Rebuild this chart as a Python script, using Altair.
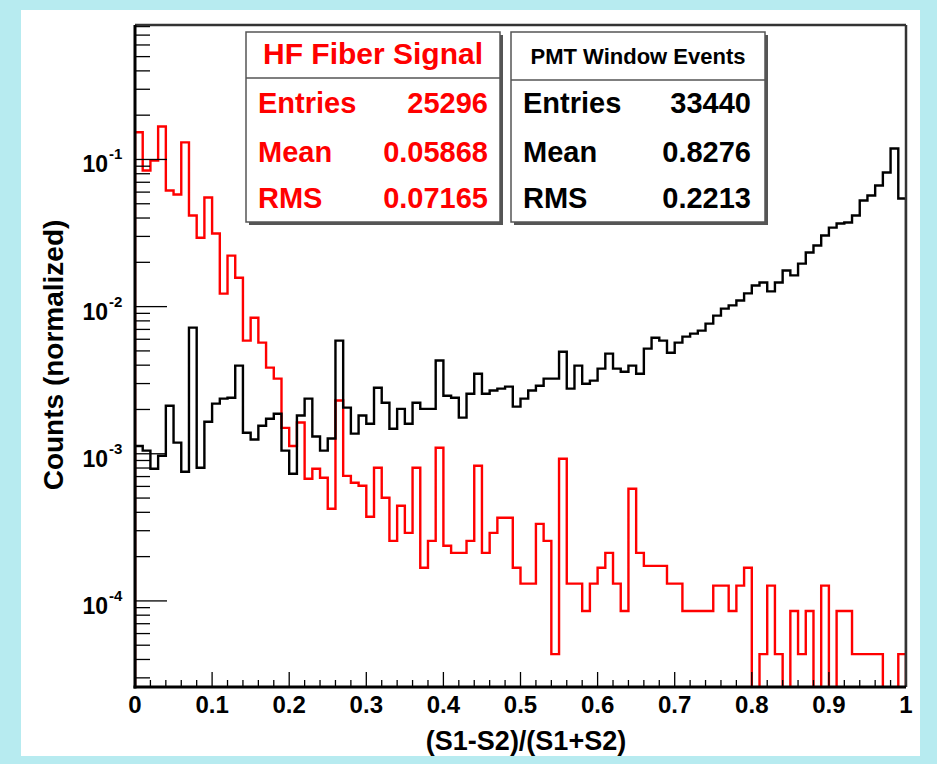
import altair as alt
import pandas as pd

# ---------------- data ----------------
n_bins = 100
hf_fiber = [
    0.153, 0.0842, 0.0985, 0.1675, 0.0615, 0.0578, 0.1306, 0.0416, 0.0294, 0.0551,
    0.0314, 0.01225, 0.0222, 0.0157, 0.00587, 0.00841, 0.00569, 0.00385, 0.00324, 0.00150,
    0.00113, 0.00163, 0.000676, 0.000791, 0.000687, 0.000423, 0.00230, 0.000708, 0.000635, 0.000606,
    0.000373, 0.000803, 0.000502, 0.000256, 0.000443, 0.000290, 0.000803, 0.000168, 0.000256, 0.001098,
    0.000237, 0.000212, 0.000212, 0.000256, 0.000829, 0.000212, 0.000290, 0.000367, 0.000367, 0.000168,
    0.000131, 0.000131, 0.000334, 0.000256, 0.0000435, 0.000925, 0.000131, 0.000131, 0.0000855, 0.000131,
    0.000168, 0.000212, 0.000131, 0.0000855, 0.000578, 0.000212, 0.000173, 0.000173, 0.000173, 0.000131,
    0.000131, 0.0000855, 0.0000855, 0.0000855, 0.0000855, 0.000127, 0.000127, 0.0000855, 0.000127, 0.000168,
    0.0, 0.0000435, 0.000127, 0.0000435, 0.0, 0.0000855, 0.0000435, 0.0000855, 0.0, 0.000127,
    0.0, 0.0000855, 0.0000855, 0.0000435, 0.0000435, 0.0000435, 0.0000435, 0.0, 0.0, 0.0000435,
]
pmt_window = [
    0.00113, 0.00105, 0.000791, 0.000969, 0.00212, 0.00119, 0.000755, 0.00720, 0.000803, 0.00165,
    0.00219, 0.00237, 0.00240, 0.00397, 0.00139, 0.00125, 0.00155, 0.00173, 0.00187, 0.00105,
    0.000731, 0.00182, 0.00237, 0.00131, 0.00105, 0.00127, 0.00587, 0.00206, 0.00137, 0.00182,
    0.00160, 0.00281, 0.00222, 0.00148, 0.00202, 0.00160, 0.00222, 0.00202, 0.00202, 0.00430,
    0.00248, 0.00240, 0.00176, 0.00256, 0.00350, 0.00256, 0.00269, 0.00277, 0.00286, 0.00209,
    0.00237, 0.00269, 0.00290, 0.00324, 0.00324, 0.00494, 0.00277, 0.00397, 0.00299, 0.00314,
    0.00379, 0.00479, 0.00379, 0.00361, 0.00397, 0.00350, 0.00518, 0.00615, 0.00587, 0.00486,
    0.00569, 0.00625, 0.00655, 0.00687, 0.00766, 0.00869, 0.00969, 0.0102, 0.0110, 0.0123,
    0.0139, 0.0146, 0.0127, 0.0146, 0.0176, 0.0163, 0.0196, 0.0233, 0.0260, 0.0304,
    0.0344, 0.0367, 0.0373, 0.0416, 0.0526, 0.0569, 0.0665, 0.0816, 0.1188, 0.0543,
]
x_tick_labels = ["0", "0.1", "0.2", "0.3", "0.4", "0.5", "0.6", "0.7", "0.8", "0.9", "1"]
y_decades = [-1, -2, -3, -4]

hf_stats = [("Entries", "25296"), ("Mean", "0.05868"), ("RMS", "0.07165")]
pmt_stats = [("Entries", "33440"), ("Mean", "0.8276"), ("RMS", "0.2213")]

# ---------------- layout ----------------
W, H = 771, 662
PL, PT = 135, 25
YMIN, YMAX = 2.6e-5, 0.82
FLOOR = 1e-8
FONT = "Liberation Sans"
RED = "#ff0000"
BG = "#b7ebf0"

xs = alt.Scale(domain=[0, 1], nice=False, zero=False)
ys = alt.Scale(type="log", domain=[YMIN, YMAX], nice=False)
one = pd.DataFrame({"a": [0]})


def step_frame(vals):
    rows = [{"i": 0, "x": 0.0, "y": FLOOR}]
    for k, v in enumerate(vals):
        rows.append({"i": k + 1, "x": k / n_bins, "y": v if v > 0 else FLOOR})
    rows.append({"i": n_bins + 1, "x": 1.0, "y": vals[-1] if vals[-1] > 0 else FLOOR})
    rows.append({"i": n_bins + 2, "x": 1.0, "y": FLOOR})
    return pd.DataFrame(rows)


def hist(vals, color):
    return alt.Chart(step_frame(vals)).mark_line(
        interpolate="step-after", color=color, strokeWidth=2.4, clip=True
    ).encode(
        x=alt.X("x:Q", scale=xs, axis=None),
        y=alt.Y("y:Q", scale=ys, axis=None),
        order="i:Q",
    )


def txt(s, x, y, size, color="black", align="left", angle=0, baseline="middle"):
    kw = dict(text=s, font=FONT, fontWeight="bold", fontSize=size, color=color,
              align=align, baseline=baseline)
    if angle:
        kw["angle"] = angle
    return alt.Chart(one).mark_text(**kw).encode(x=alt.value(x), y=alt.value(y))


def rect(x1, y1, x2, y2, fill=None, stroke=None, sw=1.0):
    kw = {"fill": fill if fill else "transparent"}
    if stroke:
        kw["stroke"] = stroke
        kw["strokeWidth"] = sw
    return alt.Chart(one).mark_rect(**kw).encode(
        x=alt.value(x1), x2=alt.value(x2), y=alt.value(y1), y2=alt.value(y2)
    )


def hline(x1, x2, y, color="black", sw=1.0):
    return alt.Chart(one).mark_rule(color=color, strokeWidth=sw).encode(
        x=alt.value(x1), x2=alt.value(x2), y=alt.value(y)
    )


def vline(x, y1, y2, color="black", sw=1.0):
    return alt.Chart(one).mark_rule(color=color, strokeWidth=sw).encode(
        x=alt.value(x), y=alt.value(y1), y2=alt.value(y2)
    )


layers = []
# white panel
layers.append(rect(21 - PL, 10 - PT, 920 - PL, 756 - PT, fill="white"))

# histograms
layers.append(hist(hf_fiber, RED))
layers.append(hist(pmt_window, "black"))

# x ticks (inward)
x_major = [i / 10 for i in range(11)]
x_minor = [i / 50 for i in range(51) if i % 5 != 0]
layers.append(
    alt.Chart(pd.DataFrame({"v": x_minor})).mark_rule(color="black", strokeWidth=1.3).encode(
        x=alt.X("v:Q", scale=xs, axis=None), y=alt.value(H), y2=alt.value(H - 7)
    )
)
layers.append(
    alt.Chart(pd.DataFrame({"v": x_major})).mark_rule(color="black", strokeWidth=1.3).encode(
        x=alt.X("v:Q", scale=xs, axis=None), y=alt.value(H), y2=alt.value(H - 15)
    )
)

# y ticks (inward), log minor
y_major = [10.0 ** d for d in y_decades]
y_minor = []
for d in [-5, -4, -3, -2, -1]:
    for m in range(2, 10):
        v = m * 10.0 ** d
        if YMIN <= v <= YMAX:
            y_minor.append(v)
layers.append(
    alt.Chart(pd.DataFrame({"v": y_minor})).mark_rule(color="black", strokeWidth=1.3).encode(
        y=alt.Y("v:Q", scale=ys, axis=None), x=alt.value(0), x2=alt.value(15)
    )
)
layers.append(
    alt.Chart(pd.DataFrame({"v": y_major})).mark_rule(color="black", strokeWidth=1.3).encode(
        y=alt.Y("v:Q", scale=ys, axis=None), x=alt.value(0), x2=alt.value(32)
    )
)

# frame
layers.append(hline(0, W, 0, color="#333333", sw=2.5))
layers.append(vline(W, 0, H, color="#333333", sw=2.5))
layers.append(vline(0, 0, H + 1.5, color="black", sw=3))
layers.append(hline(-1.5, W, H, color="black", sw=3))

# x tick labels
layers.append(
    alt.Chart(pd.DataFrame({"v": x_major, "t": x_tick_labels})).mark_text(
        font=FONT, fontWeight="bold", fontSize=24, baseline="middle", align="center"
    ).encode(x=alt.X("v:Q", scale=xs, axis=None), y=alt.value(H + 19), text="t:N")
)
# y tick labels 10^n
ylab = pd.DataFrame({"v": [10.0 ** d for d in y_decades], "e": [str(d) for d in y_decades]})
layers.append(
    alt.Chart(ylab).mark_text(
        font=FONT, fontWeight="bold", fontSize=23, baseline="middle", align="right", dy=6
    ).encode(y=alt.Y("v:Q", scale=ys, axis=None), x=alt.value(-27), text=alt.value("10"))
)
layers.append(
    alt.Chart(ylab).mark_text(
        font=FONT, fontWeight="bold", fontSize=15, baseline="middle", align="left", dy=-5
    ).encode(y=alt.Y("v:Q", scale=ys, axis=None), x=alt.value(-26), text="e:N")
)

# axis titles
layers.append(txt("(S1-S2)/(S1+S2)", 526 - PL, 742 - PT, 27, align="center"))
layers.append(txt("Counts (normalized)", 55 - PL, 355 - PT, 28, align="center", angle=270))

# stat box 1 (HF Fiber Signal)
bx1, bx2, by1, by2 = 246 - PL, 500 - PL, 32 - PT, 222 - PT
layers.append(rect(bx1 + 3, by1 + 3, bx2 + 3, by2 + 3, fill="#555555"))
layers.append(rect(bx1, by1, bx2, by2, fill="white", stroke="#555555", sw=1.5))
layers.append(hline(bx1, bx2, 78 - PT, color="#555555", sw=1.5))
layers.append(txt("HF Fiber Signal", 373 - PL, 55 - PT, 30, color=RED, align="center"))
for (lab, val), yy in zip(hf_stats, [104, 153, 199]):
    layers.append(txt(lab, 258 - PL, yy - PT, 29, color=RED, align="left"))
    layers.append(txt(val, 488 - PL, yy - PT, 29, color=RED, align="right"))

# stat box 2 (PMT Window Events)
cx1, cx2 = 511 - PL, 765 - PL
layers.append(rect(cx1 + 3, by1 + 3, cx2 + 3, by2 + 3, fill="#555555"))
layers.append(rect(cx1, by1, cx2, by2, fill="white", stroke="#555555", sw=1.5))
layers.append(hline(cx1, cx2, 80 - PT, color="#555555", sw=1.5))
layers.append(txt("PMT Window Events", 638 - PL, 57 - PT, 22, align="center"))
for (lab, val), yy in zip(pmt_stats, [104, 153, 199]):
    layers.append(txt(lab, 523 - PL, yy - PT, 29, align="left"))
    layers.append(txt(val, 751 - PL, yy - PT, 29, align="right"))

chart = alt.layer(*layers).properties(
    width=W, height=H,
    autosize=alt.AutoSizeParams(type="none"),
    padding={"left": PL, "top": PT, "right": 937 - PL - W, "bottom": 764 - PT - H},
    background=BG,
).configure_view(stroke=None)

chart.save("out.html", embed_options={"renderer": "svg", "actions": False})
